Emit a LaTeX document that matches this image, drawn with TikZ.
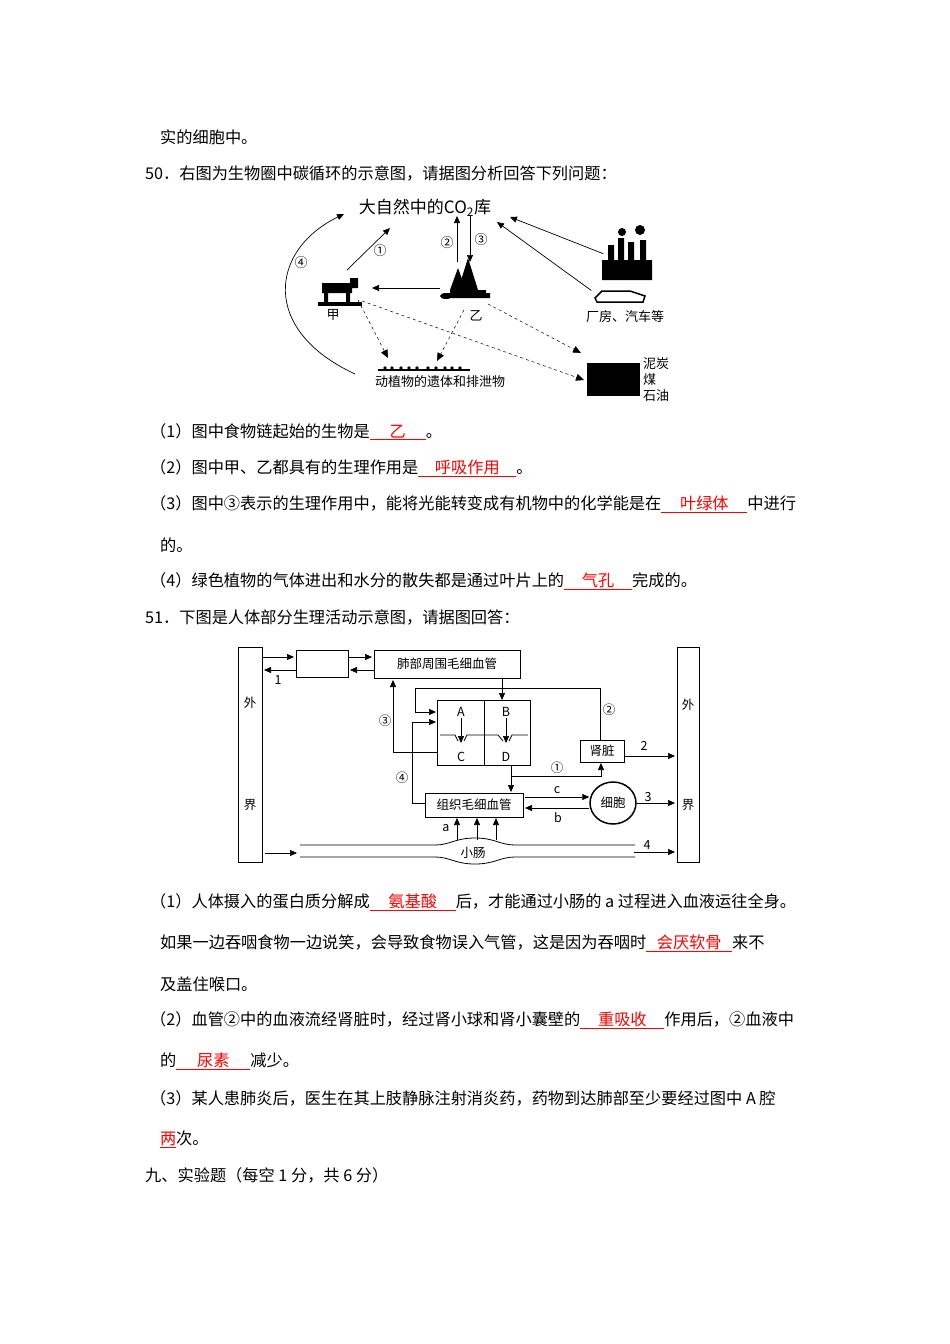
\documentclass[tikz,border=0pt]{standalone}
\usepackage{fontspec}
\setmainfont{Noto Sans CJK SC}
\usetikzlibrary{arrows.meta,shapes.geometric}
\newcommand{\ans}[2]{\textcolor{red}{\underline{\makebox[#1pt][c]{#2}}}}
\begin{document}
\begin{tikzpicture}[x=1pt,y=-1pt,
  txt/.style={anchor=west,inner sep=0,font=\fontsize{16.2}{18}\selectfont},
  lbl/.style={inner sep=0,font=\fontsize{13}{15}\selectfont},
  sm/.style={inner sep=0,font=\fontsize{12.5}{14}\selectfont},
  box/.style={draw,line width=0.8pt,inner sep=0},
  arr/.style={-{Triangle[length=7pt,width=6pt]},line width=0.7pt},
  dar/.style={-{Triangle[length=8pt,width=7pt]},dashed,line width=0.5pt}]
\useasboundingbox (0,0) rectangle (950,1344);
% ---------- text ----------
\node[txt] (t0) at (160,137) {实的细胞中。};
\node[txt] (t1) at (145,173) {50．右图为生物圈中碳循环的示意图，请据图分析回答下列问题：};
\node[txt] (t2) at (150,432) {（1）图中食物链起始的生物是\ans{56}{乙}。};
\node[txt] (t3) at (150,468) {（2）图中甲、乙都具有的生理作用是\ans{98}{呼吸作用}。};
\node[txt] (t4) at (150,504) {（3）图中③表示的生理作用中，能将光能转变成有机物中的化学能是在\ans{86}{叶绿体}中进行};
\node[txt] (t5) at (160,545) {的。};
\node[txt] (t6) at (150,581) {（4）绿色植物的气体进出和水分的散失都是通过叶片上的\ans{68}{气孔}完成的。};
\node[txt] (t7) at (145,617) {51．下图是人体部分生理活动示意图，请据图回答：};
\node[txt] (t8) at (150,902) {（1）人体摄入的蛋白质分解成\ans{86}{氨基酸}后，才能通过小肠的 a 过程进入血液运往全身。};
\node[txt] (t9) at (160,943) {如果一边吞咽食物一边说笑，会导致食物误入气管，这是因为吞咽时\ans{86}{会厌软骨}来不};
\node[txt] (t10) at (160,984) {及盖住喉口。};
\node[txt] (t11) at (150,1020) {（2）血管②中的血液流经肾脏时，经过肾小球和肾小囊壁的\ans{84}{重吸收}作用后，②血液中};
\node[txt] (t12) at (160,1061) {的\ans{74}{尿素}减少。};
\node[txt] (t13) at (150,1098) {（3）某人患肺炎后，医生在其上肢静脉注射消炎药，药物到达肺部至少要经过图中 A 腔};
\node[txt] (t14) at (160,1139) {\ans{16}{两}次。};
\node[txt] (t15) at (145,1175) {九、实验题（每空 1 分，共 6 分）};
% ---------- carbon cycle ----------
\node[inner sep=0,font=\fontsize{17}{18}\selectfont] (co2) at (425,208) {大自然中的CO\textsubscript{2}库};
% cow
\fill (322,283) rectangle (352,293) (324,293) rectangle (328,304) (346,293) rectangle (350,304) (350,278) rectangle (358,288);
\fill (318,302) rectangle (362,306);
\node[inner sep=0,minimum size=1pt] (cow) at (338,293) {};
\node[lbl] (jia) at (333,315) {甲};
% tree
\fill (468,258) -- (478,290) -- (458,290) -- cycle;
\fill (458,268) -- (466,290) -- (450,290) -- cycle;
\fill (446,296) ellipse (6 and 3);
\fill (446,293) rectangle (490,298) (450,290) rectangle (486,294);
\node[inner sep=0,minimum size=1pt] (tree) at (468,282) {};
\node[lbl] (yi) at (476,316) {乙};
% factory and car
\fill (602,260) rectangle (652,280) (608,245) rectangle (614,260) (618,238) rectangle (624,260) (628,242) rectangle (634,260) (640,240) rectangle (646,260);
\fill (622,232) circle (4) (640,230) circle (5);
\node[inner sep=0,minimum size=1pt] (fac) at (604,254) {};
\draw[line width=1.5pt] (595,298) -- (602,291) -- (630,291) -- (645,296) -- (643,302) -- (597,302) -- cycle;
\node[inner sep=0,minimum size=1pt] (car) at (592,291) {};
\node[lbl] (fc) at (625,317) {厂房、汽车等};
% remains
\draw[line width=1.5pt] (378,370) -- (470,370);
\foreach \x in {385,392,401,409,417,428,436,445,452,460} \fill (\x,368) circle (1.8);
\node[lbl] (rem) at (440,382) {动植物的遗体和排泄物};
\fill (587,363) rectangle (640,396);
\node[lbl,anchor=west] (nt) at (643,364) {泥炭};
\node[lbl,anchor=west] (mei) at (643,380) {煤};
\node[lbl,anchor=west] (sy) at (643,396) {石油};
% arrows
\draw[arr] (457,262) -- (457,216);
\draw[arr] (470,216) -- (470,262);
\node[lbl] at (447,243) {②};
\node[lbl] at (481,240) {③};
\draw[arr] (347,270) -- (390,228);
\node[lbl] at (380,251) {①};
\draw[arr] (355,374) .. controls (260,330) and (270,250) .. (344,214);
\node[lbl] at (301,263) {④};
\draw[arr] (440,288) -- (372,288);
\draw[arr] (fac) -- (510,217);
\draw[arr] (car) -- (497,222);
\draw[dar] (358,300) -- (388,358);
\draw[dar] (464,310) -- (437,361);
\draw[dar] (362,301) -- (584,380);
\draw[dar] (488,304) -- (581,353);
% ---------- body diagram ----------
\node[box,minimum width=24pt,minimum height=215pt] (L) at (250,754.5) {};
\node[sm] at (250,703) {外};
\node[sm] at (250,805) {界};
\node[box,minimum width=22pt,minimum height=215pt] (R) at (688,754.5) {};
\node[sm] at (688,705) {外};
\node[sm] at (688,805) {界};
\node[box,minimum width=52pt,minimum height=27pt] (sb) at (322,663.5) {};
\node[box,minimum width=146pt,minimum height=28pt,sm] (lung) at (447,664) {肺部周围毛细血管};
\draw[arr] (262,657) -- (294,657);
\draw[arr] (296,670) -- (264,670);
\node[sm] at (278,680) {1};
\draw[arr] (348,657) -- (372,657);
\draw[arr] (374,670) -- (350,670);
% heart
\node[box,minimum width=93pt,minimum height=65pt] (heart) at (483.5,732.5) {};
\draw[line width=0.8pt] (484,700) -- (484,765);
\node[sm] (A) at (461,712) {A};
\node[sm] (B) at (506,712) {B};
\node[sm] (C) at (461,757) {C};
\node[sm] (D) at (506,757) {D};
\draw[arr] (461,718) -- (461,743);
\draw[arr] (506,718) -- (506,743);
\draw[line width=0.8pt] (440,735) -- (455,735) -- (458,741) (464,741) -- (467,735) -- (484,735) -- (498,735) -- (503,741) (509,741) -- (512,735) -- (528,735);
\draw[arr] (502,678) -- (502,700);
% kidney
\node[box,minimum width=44pt,minimum height=22pt,sm] (kid) at (602,751) {肾脏};
\draw[arr] (600,740) -- (600,688) -- (415,688) -- (415,712) -- (436,712);
\node[sm] at (609,710) {②};
\draw[arr] (437,752) -- (393,752) -- (393,680);
\node[sm] at (385,721) {③};
\node[box,minimum width=98pt,minimum height=24pt,sm] (tis) at (474,805) {组织毛细血管};
\draw[arr] (425,803) -- (412,803) -- (412,722) -- (436,722);
\node[sm] at (402,778) {④};
\draw[arr] (511,765) -- (511,792);
\draw[arr] (511,776) -- (601,776) -- (601,763);
\node[sm] at (557,768) {①};
\draw[arr] (624,756) -- (675,756);
\node[sm] at (644,746) {2};
\node[draw,ellipse,line width=1.5pt,minimum width=46pt,minimum height=42pt,inner sep=0,sm] (cell) at (613,803) {细胞};
\draw[arr] (525,797) -- (cell.west|-0,797);
\node[sm] at (557,790) {c};
\draw[arr] (cell.west|-0,808) -- (525,808);
\node[sm] at (558,818) {b};
\draw[arr] (cell.east) -- (675,803);
\node[sm] at (648,797) {3};
\foreach \x in {457,477,496} \draw[arr] (\x,840) -- (\x,818);
\node[sm] at (446,828) {a};
% intestine
\draw[line width=0.8pt] (300,845) -- (435,845) .. controls (450,845) and (455,838) .. (475,838) .. controls (495,838) and (500,845) .. (515,845) -- (635,845);
\draw[line width=0.8pt] (300,857) -- (435,857) .. controls (450,857) and (455,864) .. (475,864) .. controls (495,864) and (500,857) .. (515,857) -- (635,857);
\node[sm] (si) at (473,853) {小肠};
\draw[arr] (265,853) -- (297,853);
\draw[arr] (634,852) -- (675,852);
\node[sm] at (647,845) {4};
\end{tikzpicture}
\end{document}
